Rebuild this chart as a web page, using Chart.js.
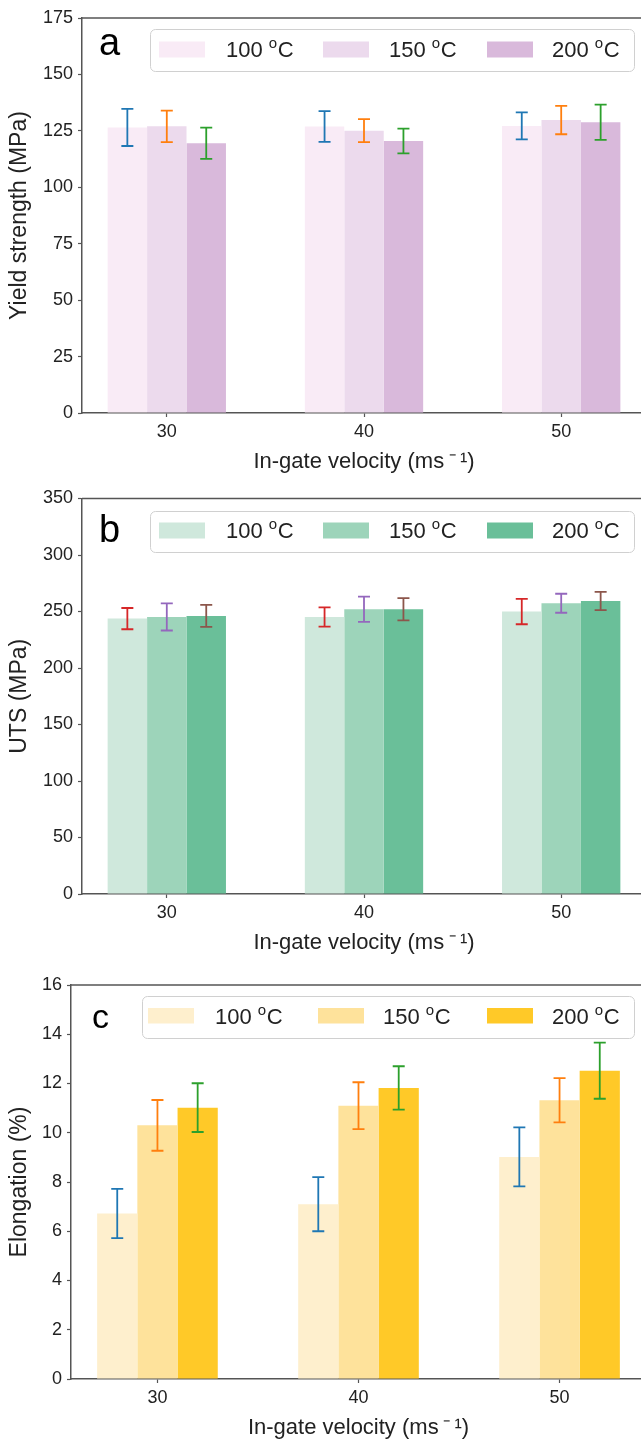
<!DOCTYPE html>
<html>
<head>
<meta charset="utf-8">
<script src="https://cdn.jsdelivr.net/npm/chart.js@4"></script>
<style>
  html, body { margin: 0; padding: 0; background: #fff; }
  body { position: relative; width: 641px; height: 1442px; overflow: hidden; }
  canvas { position: absolute; left: 0; display: block; }
</style>
</head>
<body>
<canvas id="panel-a" width="660" height="480" style="top:0px"></canvas>
<canvas id="panel-b" width="660" height="480" style="top:480px"></canvas>
<canvas id="panel-c" width="660" height="482" style="top:960px"></canvas>
<script>
// In-gate velocities (x positions) and die temperatures (series)
const velocities = [30, 40, 50];
const temperatures = ['100', '150', '200'];

// Yield strength (MPa), one row per temperature
const yieldMean = [
    [126.5, 126.9, 127.2],
    [127.0, 125.1, 129.8],
    [119.5, 120.5, 128.8]
];
const yieldErr = [
    [8.2, 6.8, 6.0],
    [7.0, 5.1, 6.3],
    [6.9, 5.5, 7.8]
];

// UTS (MPa)
const utsMean = [
    [243.7, 245.2, 249.9],
    [245.2, 252.0, 257.3],
    [246.1, 252.0, 259.3]
];
const utsErr = [
    [9.4, 8.5, 11.2],
    [12.0, 11.2, 8.4],
    [9.7, 9.9, 8.0]
];

// Elongation (%)
const elongMean = [
    [6.72, 7.10, 9.02],
    [10.30, 11.10, 11.32],
    [11.02, 11.82, 12.52]
];
const elongErr = [
    [1.00, 1.10, 1.20],
    [1.03, 0.95, 0.90],
    [0.99, 0.88, 1.14]
];

const FONT = '"Liberation Sans", Arial, Helvetica, sans-serif';
const TEXT = '#222';
const SPINE = '#555';
const X_TITLE = 'In-gate velocity (ms\u2009\u207B\u2009\u00B9)';

// error bars drawn on top of each bar, from the scale
const errorBars = {
    id: 'errorBars',
    afterDatasetsDraw(chart, args, opts) {
        const ctx = chart.ctx;
        const y = chart.scales.y;
        chart.data.datasets.forEach((ds, i) => {
            const meta = chart.getDatasetMeta(i);
            ctx.save();
            ctx.strokeStyle = opts.colors[i];
            ctx.lineWidth = 1.8;
            meta.data.forEach((bar, j) => {
                const v = ds.data[j].y;
                const e = ds.errors[j];
                const top = y.getPixelForValue(v + e);
                const bot = y.getPixelForValue(v - e);
                ctx.beginPath();
                ctx.moveTo(bar.x, top); ctx.lineTo(bar.x, bot);
                ctx.moveTo(bar.x - 6, top); ctx.lineTo(bar.x + 6, top);
                ctx.moveTo(bar.x - 6, bot); ctx.lineTo(bar.x + 6, bot);
                ctx.stroke();
            });
            ctx.restore();
        });
    }
};

// top/right spines, legend box and panel letter
const decorations = {
    id: 'decorations',
    afterDraw(chart, args, o) {
        const ctx = chart.ctx;
        const a = chart.chartArea;
        ctx.save();
        ctx.strokeStyle = SPINE;
        ctx.lineWidth = 1.5;
        ctx.beginPath();
        ctx.moveTo(a.left, a.top); ctx.lineTo(a.right, a.top); ctx.lineTo(a.right, a.bottom);
        ctx.stroke();

        // legend frame
        const L = o.legend;
        ctx.fillStyle = 'rgba(255,255,255,0.85)';
        ctx.strokeStyle = '#d0d0d0';
        ctx.lineWidth = 1;
        ctx.beginPath();
        ctx.roundRect(L.left + 0.5, L.top + 0.5, L.right - L.left, L.bottom - L.top, 5);
        ctx.fill();
        ctx.stroke();

        chart.data.datasets.forEach((ds, i) => {
            ctx.fillStyle = ds.backgroundColor;
            ctx.fillRect(L.swatchX[i], L.swatchTop, 46, L.swatchH);
            ctx.fillStyle = TEXT;
            ctx.textBaseline = 'alphabetic';
            ctx.textAlign = 'left';
            let x = L.textX[i];
            ctx.font = '22px ' + FONT;
            const head = ds.label + ' ';
            ctx.fillText(head, x, L.baseline);
            x += ctx.measureText(head).width;
            ctx.font = '15px ' + FONT;
            ctx.fillText('o', x, L.baseline - 9);
            x += ctx.measureText('o').width + 0.5;
            ctx.font = '22px ' + FONT;
            ctx.fillText('C', x, L.baseline);
        });

        ctx.fillStyle = '#000';
        ctx.font = o.letterSize + 'px ' + FONT;
        ctx.textAlign = 'left';
        ctx.textBaseline = 'alphabetic';
        ctx.fillText(o.letter, o.letterX, o.letterY);
        ctx.restore();
    }
};

function makePanel(cfg) {
    const datasets = temperatures.map((t, i) => ({
        label: t,
        data: velocities.map((v, j) => ({ x: v, y: cfg.means[i][j] })),
        errors: cfg.errs[i],
        backgroundColor: cfg.colors[i],
        borderWidth: 0
    }));

    const tickFont = { family: FONT, size: 18 };
    const titleFont = { family: FONT, size: 22 };

    new Chart(document.getElementById(cfg.id), {
        type: 'bar',
        data: { datasets },
        plugins: [errorBars, decorations],
        options: {
            responsive: false,
            animation: false,
            devicePixelRatio: 1,
            layout: { padding: { top: cfg.padTop, right: 14, left: 0, bottom: 0 } },
            datasets: { bar: { categoryPercentage: 0.6, barPercentage: 1 } },
            plugins: {
                legend: { display: false },
                tooltip: { enabled: false },
                errorBars: { colors: cfg.errColors },
                decorations: cfg.deco
            },
            scales: {
                x: {
                    type: 'linear',
                    min: 25.7,
                    max: 54.3,
                    offset: false,
                    afterBuildTicks: s => { s.ticks = velocities.map(v => ({ value: v })); },
                    afterFit: s => { s.height = cfg.xAxisH; },
                    grid: { offset: false, drawOnChartArea: false, tickLength: 4, tickColor: SPINE, tickWidth: 1.2 },
                    border: { display: true, color: SPINE, width: 1.5 },
                    ticks: { font: tickFont, color: TEXT, padding: 4, maxRotation: 0 },
                    title: { display: true, text: X_TITLE, font: titleFont, color: TEXT, padding: { top: 0, bottom: cfg.xTitlePad } }
                },
                y: {
                    min: 0,
                    max: cfg.yMax,
                    afterFit: s => { s.width = cfg.yAxisW; },
                    grid: { drawOnChartArea: false, tickLength: 4, tickColor: SPINE, tickWidth: 1.2 },
                    border: { display: true, color: SPINE, width: 1.5 },
                    ticks: { stepSize: cfg.yStep, font: tickFont, color: TEXT, padding: 5 },
                    title: { display: true, text: cfg.yTitle, font: { family: FONT, size: 23 }, color: TEXT, padding: { top: 6, bottom: 0 } }
                }
            }
        }
    });
}

makePanel({
    id: 'panel-a',
    means: yieldMean, errs: yieldErr,
    colors: ['#f9ebf6', '#ecdaed', '#d9b9db'],
    errColors: ['#1f77b4', '#ff7f0e', '#2ca02c'],
    yMax: 175, yStep: 25, yTitle: 'Yield strength (MPa)',
    padTop: 18, yAxisW: 82, xAxisH: 67, xTitlePad: 5,
    deco: {
        letter: 'a', letterSize: 38, letterX: 99, letterY: 55,
        legend: { left: 150, right: 634, top: 29, bottom: 71, swatchX: [159, 323, 487], textX: [226, 389, 552], swatchTop: 41.5, swatchH: 16, baseline: 56.5 }
    }
});

makePanel({
    id: 'panel-b',
    means: utsMean, errs: utsErr,
    colors: ['#cfe8dc', '#9dd4ba', '#6abf99'],
    errColors: ['#d62728', '#9467bd', '#8c564b'],
    yMax: 350, yStep: 50, yTitle: 'UTS (MPa)',
    padTop: 18.5, yAxisW: 82, xAxisH: 66, xTitlePad: 4,
    deco: {
        letter: 'b', letterSize: 38, letterX: 99, letterY: 62,
        legend: { left: 150, right: 634, top: 31, bottom: 72, swatchX: [159, 323, 487], textX: [226, 389, 552], swatchTop: 42.5, swatchH: 16, baseline: 57.5 }
    }
});

makePanel({
    id: 'panel-c',
    means: elongMean, errs: elongErr,
    colors: ['#feefcd', '#fee29b', '#ffc928'],
    errColors: ['#1f77b4', '#ff7f0e', '#2ca02c'],
    yMax: 16, yStep: 2, yTitle: 'Elongation (%)',
    padTop: 25, yAxisW: 71, xAxisH: 63, xTitlePad: 1,
    deco: {
        letter: 'c', letterSize: 34, letterX: 92, letterY: 68,
        legend: { left: 142, right: 634, top: 36, bottom: 78, swatchX: [148, 318, 487], textX: [215, 383, 552], swatchTop: 48, swatchH: 15.5, baseline: 63.5 }
    }
});
</script>
</body>
</html>
